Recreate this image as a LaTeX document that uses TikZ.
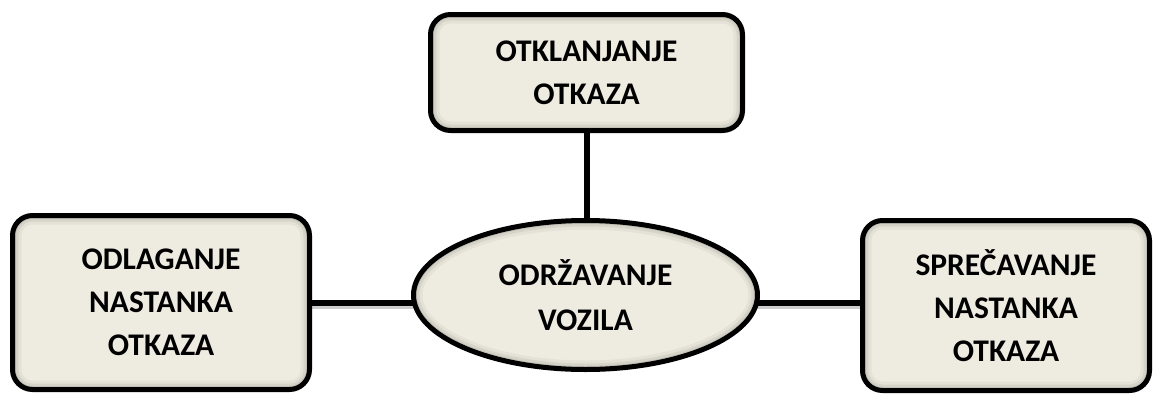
\documentclass[tikz,border=0pt]{standalone}
\usepackage{fontspec}
\setmainfont{Carlito}
\usetikzlibrary{positioning,calc,shapes.geometric,backgrounds}
\definecolor{boxfill}{HTML}{EEECE1}
\definecolor{glowgray}{HTML}{A09E94}
\tikzset{
	task/.style={rectangle, rounded corners=20pt, draw=black, line width=5pt, fill=boxfill, align=center,
		font=\bfseries\fontsize{31.5}{43}\selectfont, inner sep=0pt,
		path picture={\foreach \w/\o in {18/0.12,12/0.2,7/0.35}{
			\draw[glowgray, opacity=\o, line width=\w pt, rounded corners=20pt] (path picture bounding box.south west) rectangle (path picture bounding box.north east);}}},
	hub/.style={ellipse, draw=black, line width=5pt, fill=boxfill, align=center,
		font=\bfseries\fontsize{31.5}{45}\selectfont, inner sep=0pt,
		path picture={\foreach \w/\o in {18/0.12,12/0.2,7/0.35}{
			\draw[glowgray, opacity=\o, line width=\w pt] let \p1=($(path picture bounding box.north east)-(path picture bounding box.center)$) in
			(path picture bounding box.center) ellipse [x radius=\x1, y radius=\y1];}}},
	link/.style={draw=black, line width=6pt, preaction={draw=gray!40, line width=6pt, transform canvas={yshift=-3pt}}}
}
\begin{document}
\begin{tikzpicture}[x=1pt, y=-1pt]
		\useasboundingbox (0,0) rectangle (1154,394);
		\node[hub, minimum width=344pt, minimum height=149pt] (Odrz) at (585.5,295) {ODRŽAVANJE\\VOZILA};
		\node[task, minimum width=312pt, minimum height=116pt] (Otkl) at ([xshift=1pt, yshift=222.5pt]Odrz) {OTKLANJANJE\\OTKAZA};
		\node[task, minimum width=297pt, minimum height=174pt] (Odl) at ([xshift=-424.5pt, yshift=-7.5pt]Odrz) {ODLAGANJE\\NASTANKA\\OTKAZA};
		\node[task, minimum width=287pt, minimum height=170pt] (Spr) at ([xshift=420.5pt, yshift=-10.5pt]Odrz) {SPREČAVANJE\\NASTANKA\\OTKAZA};
		\begin{scope}[on background layer]
			\draw[link] (Otkl.south) -- (Otkl.south |- Odrz.center);
			\draw[link] (Odl.east) -- (Odl.east -| Odrz.center);
			\draw[link] ([yshift=3pt]Spr.west) -- ([yshift=3pt]Spr.west -| Odrz.center);
		\end{scope}
	\end{tikzpicture}
\end{document}
